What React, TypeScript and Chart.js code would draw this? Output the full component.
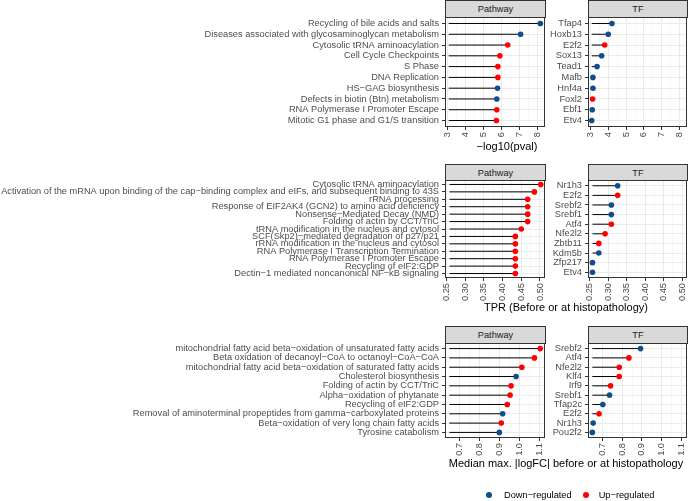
import React, { useEffect, useRef } from 'react';
import { Chart, registerables } from 'chart.js';

Chart.register(...registerables);

const FONT = "'Liberation Sans', Arial, Helvetica, sans-serif";
const BLUE = '#104E8B';
const RED = '#FF0000';
const TICK_FONT_SIZE = 9.25;

// ---------- Row 1: -log10(pval) ----------
const pvalPathwayLabels = [
  'Recycling of bile acids and salts',
  'Diseases associated with glycosaminoglycan metabolism',
  'Cytosolic tRNA aminoacylation',
  'Cell Cycle Checkpoints',
  'S Phase',
  'DNA Replication',
  'HS\u2212GAG biosynthesis',
  'Defects in biotin (Btn) metabolism',
  'RNA Polymerase I Promoter Escape',
  'Mitotic G1 phase and G1/S transition',
];
const pvalPathwayValues = [8.17, 7.07, 6.35, 5.91, 5.8, 5.8, 5.78, 5.74, 5.74, 5.72];
const pvalPathwayDir = ['Down', 'Down', 'Up', 'Up', 'Up', 'Up', 'Down', 'Down', 'Up', 'Up'];

const pvalTfLabels = ['Tfap4', 'Hoxb13', 'E2f2', 'Sox13', 'Tead1', 'Mafb', 'Hnf4a', 'Foxl2', 'Ebf1', 'Etv4'];
const pvalTfValues = [4.2, 3.99, 3.79, 3.62, 3.36, 3.13, 3.13, 3.11, 3.09, 3.06];
const pvalTfDir = ['Down', 'Down', 'Up', 'Down', 'Down', 'Down', 'Down', 'Up', 'Down', 'Down'];

const pvalMajorTicks = [3, 4, 5, 6, 7, 8];
const pvalMinorTicks = [3.5, 4.5, 5.5, 6.5, 7.5];

// ---------- Row 2: TPR ----------
const tprPathwayLabels = [
  'Cytosolic tRNA aminoacylation',
  'Activation of the mRNA upon binding of the cap\u2212binding complex and eIFs, and subsequent binding to 43S',
  'rRNA processing',
  'Response of EIF2AK4 (GCN2) to amino acid deficiency',
  'Nonsense\u2212Mediated Decay (NMD)',
  'Folding of actin by CCT/TriC',
  'tRNA modification in the nucleus and cytosol',
  'SCF(Skp2)\u2212mediated degradation of p27/p21',
  'rRNA modification in the nucleus and cytosol',
  'RNA Polymerase I Transcription Termination',
  'RNA Polymerase I Promoter Escape',
  'Recycling of eIF2:GDP',
  'Dectin\u22121 mediated noncanonical NF\u2212kB signaling',
];
const tprPathwayValues = [0.502, 0.485, 0.467, 0.467, 0.467, 0.467, 0.45, 0.434, 0.434, 0.434, 0.434, 0.434, 0.434];
const tprPathwayDir = ['Up', 'Up', 'Up', 'Up', 'Up', 'Up', 'Up', 'Up', 'Up', 'Up', 'Up', 'Up', 'Up'];

const tprTfLabels = ['Nr1h3', 'E2f2', 'Srebf2', 'Srebf1', 'Atf4', 'Nfe2l2', 'Zbtb11', 'Kdm5b', 'Zfp217', 'Etv4'];
const tprTfValues = [0.326, 0.326, 0.309, 0.309, 0.309, 0.292, 0.275, 0.275, 0.258, 0.258];
const tprTfDir = ['Down', 'Up', 'Down', 'Down', 'Up', 'Up', 'Up', 'Down', 'Down', 'Down'];

const tprMajorTicks = [0.25, 0.3, 0.35, 0.4, 0.45, 0.5];
const tprMinorTicks = [0.275, 0.325, 0.375, 0.425, 0.475];

// ---------- Row 3: median max |logFC| ----------
const fcPathwayLabels = [
  'mitochondrial fatty acid beta\u2212oxidation of unsaturated fatty acids',
  'Beta oxidation of decanoyl\u2212CoA to octanoyl\u2212CoA\u2212CoA',
  'mitochondrial fatty acid beta\u2212oxidation of saturated fatty acids',
  'Cholesterol biosynthesis',
  'Folding of actin by CCT/TriC',
  'Alpha\u2212oxidation of phytanate',
  'Recycling of eIF2:GDP',
  'Removal of aminoterminal propeptides from gamma\u2212carboxylated proteins',
  'Beta\u2212oxidation of very long chain fatty acids',
  'Tyrosine catabolism',
];
const fcPathwayValues = [1.104, 1.075, 1.012, 0.983, 0.958, 0.953, 0.939, 0.916, 0.909, 0.899];
const fcPathwayDir = ['Up', 'Up', 'Up', 'Down', 'Up', 'Up', 'Up', 'Down', 'Up', 'Down'];

const fcTfLabels = ['Srebf2', 'Atf4', 'Nfe2l2', 'Klf4', 'Irf9', 'Srebf1', 'Tfap2c', 'E2f2', 'Nr1h3', 'Pou2f2'];
const fcTfValues = [0.893, 0.834, 0.785, 0.785, 0.741, 0.736, 0.702, 0.683, 0.653, 0.649];
const fcTfDir = ['Down', 'Up', 'Up', 'Up', 'Up', 'Down', 'Down', 'Up', 'Down', 'Down'];

const fcMajorTicks = [0.7, 0.8, 0.9, 1.0, 1.1];
const fcMinorTicks = [0.65, 0.75, 0.85, 0.95, 1.05];

const PADT = 12;
const PADR = 12;

const borderPlugin = {
  id: 'panelBorder',
  afterDraw(chart: any) {
    const { ctx, chartArea } = chart;
    const l = Math.round(chartArea.left);
    const t = Math.round(chartArea.top);
    const r = Math.round(chartArea.right);
    const b = Math.round(chartArea.bottom);
    ctx.save();
    ctx.strokeStyle = '#333333';
    ctx.lineWidth = 1;
    ctx.strokeRect(l + 0.5, t + 0.5, r - l - 1, b - t - 1);
    ctx.restore();
  },
};

type PanelProps = {
  labels: string[];
  values: number[];
  dirs: string[];
  base: number;
  xMin: number;
  xMax: number;
  majors: number[];
  minors: number[];
  decimals: number;
  canvasLeft: number;
  panelLeft: number;
  panelRight: number;
  panelTop: number;
  panelBottom: number;
  xHeight: number;
};

const isIn = (v: number, arr: number[]) => arr.some((m) => Math.abs(m - v) < 1e-9);

function Panel(p: PanelProps) {
  const ref = useRef<HTMLCanvasElement | null>(null);
  const top = p.panelTop - PADT;
  const width = p.panelRight - p.canvasLeft + PADR;
  const height = p.panelBottom - top + p.xHeight;

  useEffect(() => {
    if (!ref.current) return;
    const n = p.labels.length;
    const allTicks = [...p.majors, ...p.minors].sort((a, b) => a - b);
    const segs = p.values.map((v, i) => ({
      type: 'scatter' as const,
      data: [
        { x: p.base, y: i },
        { x: v, y: i },
      ],
      showLine: true,
      borderColor: '#000000',
      borderWidth: 1,
      pointRadius: 0,
      pointHoverRadius: 0,
    }));
    const chart = new Chart(ref.current, {
      type: 'scatter',
      data: {
        datasets: [
          {
            data: p.values.map((v, i) => ({ x: v, y: i })),
            pointRadius: 2.8,
            pointHoverRadius: 2.8,
            pointBorderWidth: 0,
            pointBackgroundColor: p.dirs.map((d) => (d === 'Up' ? RED : BLUE)),
            pointBorderColor: p.dirs.map((d) => (d === 'Up' ? RED : BLUE)),
          },
          ...segs,
        ],
      },
      options: {
        animation: false,
        responsive: false,
        devicePixelRatio: 1,
        events: [],
        layout: { padding: { top: PADT, right: PADR, left: 0, bottom: 0 } },
        plugins: { legend: { display: false }, tooltip: { enabled: false } },
        scales: {
          x: {
            type: 'linear',
            min: p.xMin,
            max: p.xMax,
            afterBuildTicks: (s: any) => {
              s.ticks = allTicks.map((v) => ({ value: v }));
            },
            afterFit: (s: any) => {
              s.height = p.xHeight;
            },
            ticks: {
              autoSkip: false,
              minRotation: 90,
              maxRotation: 90,
              padding: 2,
              color: '#4D4D4D',
              font: { size: TICK_FONT_SIZE, family: FONT },
              callback: (v: any) => (isIn(Number(v), p.majors) ? Number(v).toFixed(p.decimals) : ''),
            },
            grid: {
              color: (c: any) => (c.tick && isIn(c.tick.value, p.majors) ? '#EBEBEB' : '#F3F3F3'),
              lineWidth: (c: any) => (c.tick && isIn(c.tick.value, p.majors) ? 1 : 0.6),
              tickColor: (c: any) => (c.tick && isIn(c.tick.value, p.majors) ? '#333333' : 'rgba(0,0,0,0)'),
              tickLength: 3,
            },
            border: { display: false },
          },
          y: {
            type: 'linear',
            reverse: true,
            min: -0.6,
            max: n - 0.4,
            afterBuildTicks: (s: any) => {
              s.ticks = p.labels.map((_, i) => ({ value: i }));
            },
            afterFit: (s: any) => {
              s.width = p.panelLeft - p.canvasLeft;
            },
            ticks: {
              autoSkip: false,
              padding: 3,
              color: '#4D4D4D',
              font: { size: TICK_FONT_SIZE, family: FONT, lineHeight: 1 },
              callback: (v: any) => p.labels[Math.round(Number(v))] ?? '',
            },
            grid: {
              color: '#EBEBEB',
              lineWidth: 1,
              tickColor: '#333333',
              tickLength: 3,
            },
            border: { display: false },
          },
        },
      } as any,
      plugins: [borderPlugin],
    });
    return () => chart.destroy();
  }, []);

  return (
    <canvas
      ref={ref}
      width={width}
      height={height}
      style={{ position: 'absolute', left: p.canvasLeft, top, width, height }}
    />
  );
}

function Strip({ text, left, right, top, bottom }: { text: string; left: number; right: number; top: number; bottom: number }) {
  return (
    <div
      style={{
        position: 'absolute',
        left,
        top,
        width: right - left,
        height: bottom - top + 1,
        boxSizing: 'border-box',
        background: '#D9D9D9',
        border: '1px solid #333333',
        color: '#1A1A1A',
        fontFamily: FONT,
        fontSize: TICK_FONT_SIZE,
        display: 'flex',
        alignItems: 'center',
        justifyContent: 'center',
      }}
    >
      {text}
    </div>
  );
}

function AxisTitle({ text, cx, cy }: { text: string; cx: number; cy: number }) {
  return (
    <div
      style={{
        position: 'absolute',
        left: cx - 200,
        width: 400,
        top: cy - 8,
        height: 16,
        lineHeight: '16px',
        textAlign: 'center',
        fontFamily: FONT,
        fontSize: 11,
        color: '#000000',
        whiteSpace: 'nowrap',
      }}
    >
      {text}
    </div>
  );
}

const PW_L = 445;
const PW_R = 545;
const TF_L = 588;
const TF_R = 687;

type RowDef = {
  pwLabels: string[];
  pwValues: number[];
  pwDir: string[];
  tfLabels: string[];
  tfValues: number[];
  tfDir: string[];
  xMin: number;
  xMax: number;
  majors: number[];
  minors: number[];
  decimals: number;
  stripTop: number;
  panelTop: number;
  panelBottom: number;
};

function Row(r: RowDef) {
  const base = Math.min(...r.pwValues, ...r.tfValues);
  const common = {
    base,
    xMin: r.xMin,
    xMax: r.xMax,
    majors: r.majors,
    minors: r.minors,
    decimals: r.decimals,
    panelTop: r.panelTop,
    panelBottom: r.panelBottom,
    xHeight: 30,
  };
  return (
    <>
      <Panel
        {...common}
        labels={r.pwLabels}
        values={r.pwValues}
        dirs={r.pwDir}
        canvasLeft={0}
        panelLeft={PW_L}
        panelRight={PW_R}
      />
      <Panel
        {...common}
        labels={r.tfLabels}
        values={r.tfValues}
        dirs={r.tfDir}
        canvasLeft={549}
        panelLeft={TF_L}
        panelRight={TF_R}
      />
      <Strip text="Pathway" left={PW_L} right={PW_R + 1} top={r.stripTop} bottom={r.panelTop} />
      <Strip text="TF" left={TF_L} right={TF_R + 1} top={r.stripTop} bottom={r.panelTop} />
    </>
  );
}

export default function App() {
  return (
    <div
      style={{
        position: 'absolute',
        left: 0,
        top: 0,
        width: 688,
        height: 501,
        overflow: 'hidden',
        background: '#FFFFFF',
      }}
    >
      <Row
        pwLabels={pvalPathwayLabels}
        pwValues={pvalPathwayValues}
        pwDir={pvalPathwayDir}
        tfLabels={pvalTfLabels}
        tfValues={pvalTfValues}
        tfDir={pvalTfDir}
        xMin={2.85}
        xMax={8.43}
        majors={pvalMajorTicks}
        minors={pvalMinorTicks}
        decimals={0}
        stripTop={0}
        panelTop={17}
        panelBottom={127}
      />
      <Row
        pwLabels={tprPathwayLabels}
        pwValues={tprPathwayValues}
        pwDir={tprPathwayDir}
        tfLabels={tprTfLabels}
        tfValues={tprTfValues}
        tfDir={tprTfDir}
        xMin={0.2458}
        xMax={0.5134}
        majors={tprMajorTicks}
        minors={tprMinorTicks}
        decimals={2}
        stripTop={164}
        panelTop={180}
        panelBottom={278}
      />
      <Row
        pwLabels={fcPathwayLabels}
        pwValues={fcPathwayValues}
        pwDir={fcPathwayDir}
        tfLabels={fcTfLabels}
        tfValues={fcTfValues}
        tfDir={fcTfDir}
        xMin={0.627}
        xMax={1.128}
        majors={fcMajorTicks}
        minors={fcMinorTicks}
        decimals={1}
        stripTop={326}
        panelTop={343}
        panelBottom={438}
      />
      <AxisTitle text={'\u2212log10(pval)'} cx={507} cy={146} />
      <AxisTitle text="TPR (Before or at histopathology)" cx={566} cy={307} />
      <AxisTitle text="Median max. |logFC| before or at histopathology" cx={566} cy={463} />
      <div
        style={{
          position: 'absolute',
          left: 486,
          top: 488,
          height: 14,
          display: 'flex',
          alignItems: 'center',
          fontFamily: FONT,
          fontSize: 9.25,
          color: '#000000',
          whiteSpace: 'nowrap',
        }}
      >
        <span style={{ width: 6, height: 6, borderRadius: 3, background: BLUE, display: 'inline-block' }} />
        <span style={{ marginLeft: 12 }}>Down{'\u2212'}regulated</span>
        <span style={{ width: 6, height: 6, borderRadius: 3, background: RED, display: 'inline-block', marginLeft: 11 }} />
        <span style={{ marginLeft: 10 }}>Up{'\u2212'}regulated</span>
      </div>
    </div>
  );
}
